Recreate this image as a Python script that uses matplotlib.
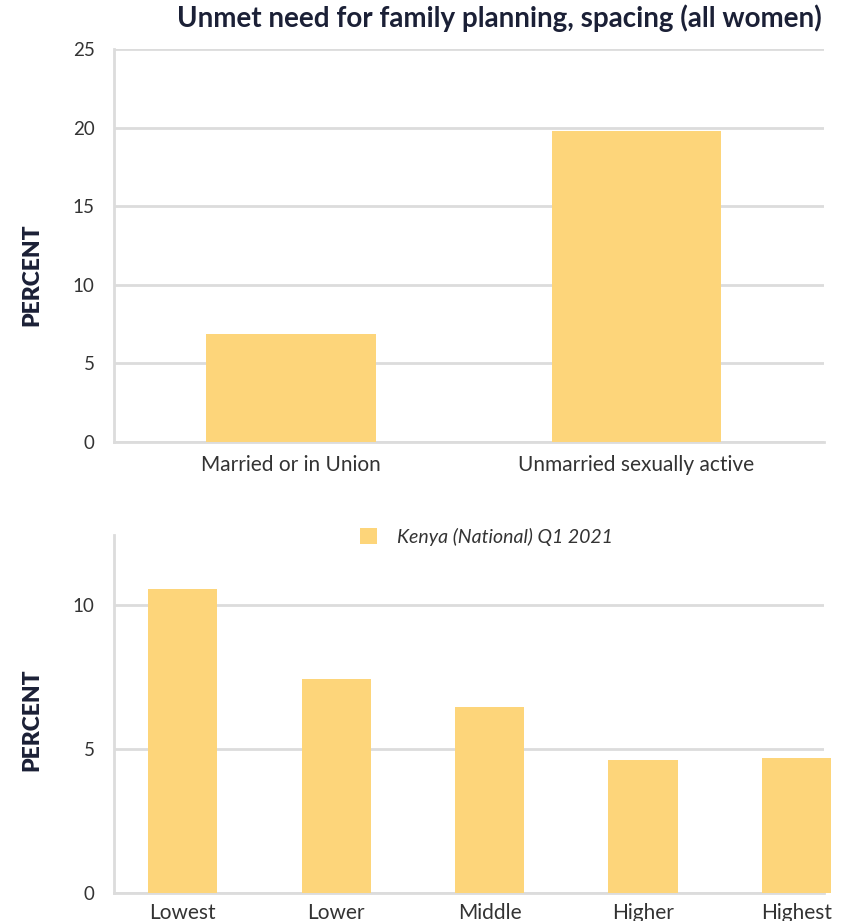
import matplotlib.pyplot as plt
from matplotlib.patches import Patch

# data
union_labels = ['Married or in Union', 'Unmarried sexually active']
union_values = [6.9, 19.8]

wealth_labels = ['Lowest', 'Lower', 'Middle', 'Higher', 'Highest']
wealth_values = [10.55, 7.43, 6.46, 4.62, 4.69]

series_name = 'Kenya (National) Q1 2021'
title = 'Unmet need for family planning, spacing (all women)'

bar_color = '#FDD57A'
grid_color = '#DCDCDC'
text_color = '#333333'
title_color = '#1B2036'

plt.rcParams['font.family'] = ['Lato', 'DejaVu Sans']

fig = plt.figure(figsize=(8.54, 9.21), dpi=100)

ax1 = fig.add_axes([0.1335, 0.520, 0.8315, 0.4268])
ax2 = fig.add_axes([0.1335, 0.0304, 0.8315, 0.3887])


def style_axis(ax, label_y):
    for side in ['top', 'right']:
        ax.spines[side].set_visible(False)
    ax.spines['left'].set_color(grid_color)
    ax.spines['left'].set_linewidth(2)
    ax.spines['bottom'].set_color(grid_color)
    ax.spines['bottom'].set_linewidth(2)
    ax.yaxis.grid(True, color=grid_color, linewidth=2)
    ax.set_axisbelow(True)
    ax.tick_params(length=0, colors=text_color)
    ax.tick_params(axis='y', pad=14, labelsize=13.5)
    ax.tick_params(axis='x', pad=9, labelsize=15)
    ax.set_ylabel('PERCENT', fontsize=16.5, fontweight='heavy', color=title_color)
    ax.yaxis.set_label_coords(-0.101, label_y)


# top panel
x1 = list(range(len(union_labels)))
ax1.bar(x1, union_values, width=0.49, color=bar_color, zorder=3)
ax1.set_xticks(x1)
ax1.set_xticklabels(union_labels)
ax1.set_xlim(-0.513, 1.545)
ax1.set_ylim(0, 25)
ax1.set_yticks([0, 5, 10, 15, 20, 25])
style_axis(ax1, 0.427)
fig.text(0.585, 0.980, title, ha='center', va='center', fontsize=20,
         fontweight='bold', color=title_color)

# bottom panel
x2 = list(range(len(wealth_labels)))
ax2.bar(x2, wealth_values, width=0.45, color=bar_color, zorder=3, clip_on=False)
ax2.set_xticks(x2)
ax2.set_xticklabels(wealth_labels)
ax2.set_xlim(-0.447, 4.18)
ax2.set_ylim(0, 12.43)
ax2.set_yticks([0, 5, 10])
style_axis(ax2, 0.483)
ax2.tick_params(axis='x', pad=7)

handles = [Patch(facecolor=bar_color, edgecolor='none')]
leg = ax2.legend(handles, [series_name], loc='center', bbox_to_anchor=(0.524, 0.995),
                 frameon=False, handlelength=0.9, handleheight=0.9, handletextpad=1.0,
                 prop={'style': 'italic', 'size': 14})
for t in leg.get_texts():
    t.set_color(text_color)

fig.savefig('out.png', dpi=100)
